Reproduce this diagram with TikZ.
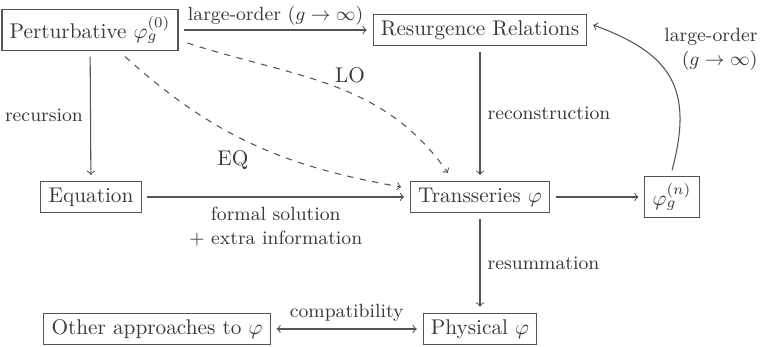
\documentclass[tikz,border=0pt]{standalone}
\usepackage{amsmath}
\usetikzlibrary{calc}
\definecolor{ink}{gray}{0.22}
\definecolor{wire}{gray}{0.33}
\begin{document}
\begin{tikzpicture}[x=0.47pt,y=0.47pt,
  font=\fontsize{10}{12}\selectfont,
  box/.style={draw=wire, text=ink, line width=0.5pt, inner xsep=3.6pt, inner ysep=3pt, outer sep=3pt},
  arr/.style={->, draw=wire, line width=0.5pt},
  lbl/.style={text=ink, font=\fontsize{9}{11.5}\selectfont},
  big/.style={text=ink}]
\useasboundingbox (0,0) rectangle (763,347);
\node[box] (pert) at (90,317) {Perturbative $\varphi_g^{(0)}$};
\node[box] (res)  at (480,317) {Resurgence Relations};
\node[box] (eq)   at (91,150) {Equation};
\node[box] (tr)   at (480,150) {Transseries $\varphi$};
\node[box] (phin) at (672,150) {$\varphi_g^{(n)}$};
\node[box] (oth)  at (157,18) {Other approaches to $\varphi$};
\node[box] (phys) at (480,18) {Physical $\varphi$};
\node[lbl, align=right, anchor=east, inner sep=1pt] (lolbl) at (760,298) {large-order\\$(g\to\infty)$};
\node[big] (lo) at (350,272) {LO};
\node[big] (eql) at (233,187) {EQ};

\draw[arr] (pert) -- node[above, lbl, inner sep=2pt] {large-order $(g\to\infty)$} (res);
\draw[arr] (pert) -- node[left, lbl] {recursion} (eq);
\draw[arr] (res) -- node[right, lbl] {reconstruction} (tr);
\draw[arr] (eq) -- node[below, lbl, align=center, yshift=-1pt] {formal solution\\$+$ extra information} (tr);
\draw[arr] (tr) -- (phin);
\draw[arr] (tr) -- node[right, lbl] {resummation} (phys);
\draw[arr, <->] (oth) -- node[above, lbl] {compatibility} (phys);
\draw[arr] (phin.north) to[out=75, in=-20, looseness=1.3] ($(res.east)+(0,5)$);
\draw[arr, dashed] ($(pert.east)+(3,-13)$) to[out=-18, in=125] ($(tr.north)+(-32,2)$);
\draw[arr, dashed] ($(pert.south)+(35,0)$) to[out=-42, in=170] ($(tr.west)+(-3,10)$);
\end{tikzpicture}
\end{document}
